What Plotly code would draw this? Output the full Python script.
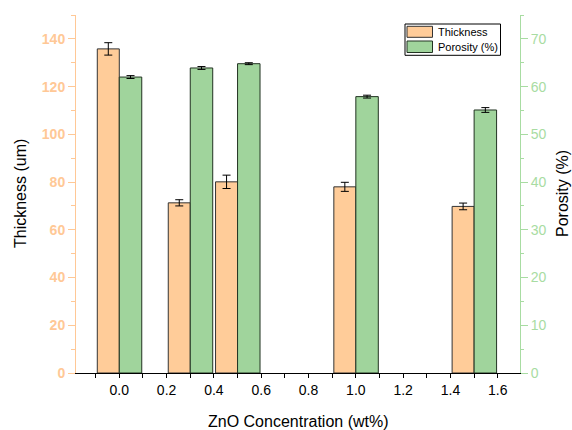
import plotly.graph_objects as go

concentration = [0.0, 0.3, 0.5, 1.0, 1.5]
thickness = [135.8, 71.3, 80.1, 78.0, 69.8]
thickness_err = [2.6, 1.3, 2.8, 1.9, 1.4]
porosity = [62.0, 63.9, 64.8, 57.9, 55.1]
porosity_err = [0.3, 0.3, 0.2, 0.3, 0.5]
series_names = ["Thickness", "Porosity (%)"]

ORANGE = "#FFCC99"
GREEN = "#A0D49C"
ORANGE_AX = "#FFC896"
GREEN_AX = "#A8DCA2"
FONT = "Liberation Sans, Arial, sans-serif"

W, H = 572, 430
ML, MR, MT, MB = 76, 52, 15, 57
PW, PH = W - ML - MR, H - MT - MB


def px_x(p):
    return (p - ML) / PW


def px_y(p):
    return (H - MB - p) / PH


fig = go.Figure()
fig.add_trace(go.Bar(
    x=concentration, y=thickness, name=series_names[0],
    offset=-0.093, width=0.093,
    marker=dict(color=ORANGE, line=dict(color="#333333", width=1)),
    error_y=dict(type="data", array=thickness_err, color="black", thickness=1, width=4),
    xaxis="x", yaxis="y", showlegend=False,
))
fig.add_trace(go.Bar(
    x=concentration, y=porosity, name=series_names[1],
    offset=0.0, width=0.095,
    marker=dict(color=GREEN, line=dict(color="#223322", width=1)),
    error_y=dict(type="data", array=porosity_err, color="black", thickness=1, width=4),
    xaxis="x", yaxis="y2", showlegend=False,
))

# manual legend (box, swatches, labels)
shapes = [
    dict(type="rect", xref="paper", yref="paper",
         x0=px_x(405), x1=px_x(500.5), y0=px_y(55.3), y1=px_y(24),
         line=dict(color="black", width=1), fillcolor="white", layer="above"),
    dict(type="rect", xref="paper", yref="paper",
         x0=px_x(407), x1=px_x(432.5), y0=px_y(37.3), y1=px_y(26.3),
         line=dict(color="#333333", width=1), fillcolor=ORANGE, layer="above"),
    dict(type="rect", xref="paper", yref="paper",
         x0=px_x(407), x1=px_x(432.5), y0=px_y(52.5), y1=px_y(41),
         line=dict(color="#223322", width=1), fillcolor=GREEN, layer="above"),
]
annotations = [
    dict(text=series_names[0], xref="paper", yref="paper", x=px_x(436), y=px_y(31.8),
         xanchor="left", yanchor="middle", showarrow=False, font=dict(size=11)),
    dict(text=series_names[1], xref="paper", yref="paper", x=px_x(436), y=px_y(46.8),
         xanchor="left", yanchor="middle", showarrow=False, font=dict(size=11)),
    dict(text="ZnO Concentration (wt%)", xref="paper", yref="paper", x=0.5, y=px_y(421.5),
         xanchor="center", yanchor="middle", showarrow=False, font=dict(size=16)),
    dict(text="Thickness (um)", xref="paper", yref="paper", x=px_x(20), y=px_y(194),
         xanchor="center", yanchor="middle", showarrow=False, textangle=-90, font=dict(size=16)),
    dict(text="Porosity (%)", xref="paper", yref="paper", x=px_x(562), y=px_y(194),
         xanchor="center", yanchor="middle", showarrow=False, textangle=-90, font=dict(size=16)),
]

fig.update_layout(
    width=W, height=H,
    margin=dict(l=ML, r=MR, t=MT, b=MB, autoexpand=False),
    paper_bgcolor="white", plot_bgcolor="white",
    barmode="overlay",
    font=dict(family=FONT, color="black"),
    showlegend=False,
    shapes=shapes, annotations=annotations,
    xaxis=dict(
        range=[-0.183, 1.694], tick0=0, dtick=0.2, tickformat=".1f",
        showline=True, linecolor="black", linewidth=1,
        ticks="outside", ticklen=4, tickcolor="black",
        minor=dict(dtick=0.1, ticks="outside", ticklen=4, tickcolor="black"),
        showgrid=False, zeroline=False, automargin=False,
        tickfont=dict(size=14, color="black"),
    ),
    xaxis2=dict(
        range=[-0.183, 1.694], overlaying="x", side="top", tick0=0, dtick=0.2,
        showline=True, linecolor="black", linewidth=1,
        ticks="inside", ticklen=6, tickcolor="black", showticklabels=False,
        minor=dict(dtick=0.1, ticks="inside", ticklen=3, tickcolor="black"),
        showgrid=False, zeroline=False, automargin=False,
    ),
    yaxis=dict(
        range=[0, 150], dtick=20, showline=True, linecolor=ORANGE_AX, linewidth=1,
        ticks="outside", ticklen=7, tickcolor=ORANGE_AX,
        minor=dict(dtick=10, ticks="outside", ticklen=4, tickcolor=ORANGE_AX),
        showgrid=False, zeroline=False, automargin=False,
        tickfont=dict(size=14, color=ORANGE_AX, family=FONT, weight="bold"),
    ),
    yaxis2=dict(
        range=[0, 75], dtick=10, overlaying="y", side="right",
        showline=True, linecolor=GREEN_AX, linewidth=1,
        ticks="outside", ticklen=7, tickcolor=GREEN_AX,
        minor=dict(dtick=5, ticks="outside", ticklen=3, tickcolor=GREEN_AX),
        showgrid=False, zeroline=False, automargin=False,
        tickfont=dict(size=14, color=GREEN_AX),
    ),
)

fig.write_html("out.html", config={"displayModeBar": False},
               post_script="document.body.style.margin='0';")
